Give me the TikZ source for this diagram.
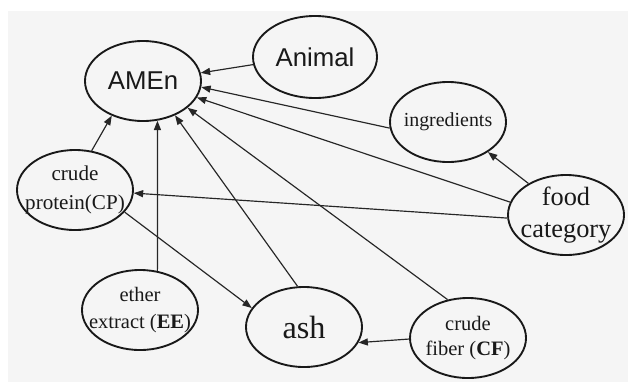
\documentclass[tikz,border=0pt]{standalone}
\usepackage{fontspec}
\setmainfont{Liberation Serif}
\setsansfont{Liberation Sans}
\usetikzlibrary{shapes.geometric,arrows.meta}
\definecolor{paper}{HTML}{F5F5F5}

\begin{document}
\begin{tikzpicture}[x=0.03cm,y=-0.03cm,
    var/.style={ellipse,draw=black!90,line width=1.6pt,inner sep=-20pt,
      minimum width=3.48cm,minimum height=2.4cm,align=center,text=black!90},
    link/.style={draw=black!85,line width=1pt,-{Triangle[length=8pt,width=6pt]}}]
    \useasboundingbox (0,0) rectangle (628,383);
    \fill[paper] (8,11) rectangle (628,382);
    \node[var,font=\sffamily\fontsize{22}{26}\selectfont] (amen) at (143,81) {AMEn};
    \node[var,font=\sffamily\fontsize{22}{26}\selectfont,minimum width=3.72cm,minimum height=2.46cm] (animal) at (315,57) {Animal};
    \node[var,font=\fontsize{17}{20}\selectfont] (ingr) at (448,122) {ingredients};
    \node[var,font=\fontsize{22.5}{28}\selectfont] (food) at (566,215) {food\\category};
    \node[var,font=\fontsize{18}{25}\selectfont] (cp) at (75,190) {crude\\protein(CP)};
    \node[var,font=\fontsize{17.5}{23}\selectfont] (ee) at (140,310) {ether\\extract (\textbf{EE})};
    \node[var,font=\fontsize{27.5}{30}\selectfont] (ash) at (304,327) {ash};
    \node[var,font=\fontsize{17.5}{21}\selectfont] (cf) at (468,338) {crude\\fiber (\textbf{CF})};
    \draw[link] (animal.187) -- (amen.8);
    \draw[link] (ingr.186) -- (amen.354);
    \draw[link] (food.167) -- (amen.343);
    \draw[link] (food.140) -- (ingr.323);
    \draw[link] (food.183) -- (cp.357);
    \draw[link] (cf.118) -- (amen.329);
    \draw[link] (ash.99) -- (amen.313);
    \draw[link] (ee.66) -- (amen.290);
    \draw[link] (cp.67) -- (amen.228);
    \draw[link] (cp.336) -- (ash.160);
    \draw[link] (cf.181) -- (ash.344);
  \end{tikzpicture}
\end{document}
